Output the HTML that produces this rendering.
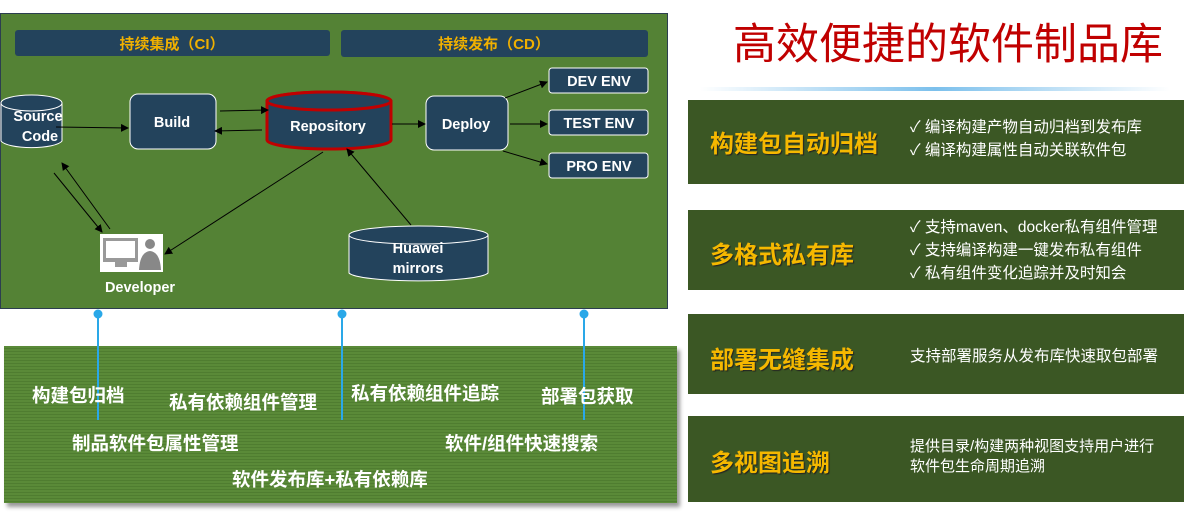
<!DOCTYPE html>
<html><head><meta charset="utf-8"><style>
body{margin:0;width:1189px;height:513px;background:#fff;overflow:hidden;position:relative;font-family:"Liberation Sans","Noto Sans CJK SC",sans-serif}
.a{position:absolute}
.rb{position:absolute;left:688px;width:496px;background:#3b5724;color:#fff}
.rb .h{position:absolute;left:22px;color:#f5b800;font-size:24px;font-weight:bold;text-shadow:1px 1px 1px #222;white-space:nowrap}
.rb .t{position:absolute;left:222px;font-size:15.5px;line-height:23px;white-space:nowrap}
.bt{position:absolute;color:#fff;font-size:18.5px;font-weight:bold;white-space:nowrap}
</style></head><body>
<div class="a" style="left:0;top:13px;width:668px;height:296px;background:#548235;border:1px solid #2c3e50;box-sizing:border-box"></div>
<div class="a" style="left:4px;top:346px;width:673px;height:157px;background:repeating-linear-gradient(#5a8a38 0 2px,#4f7d30 2px 3px);box-shadow:3px 4px 4px #999"></div>
<svg class="a" style="left:0;top:0" width="1189" height="513">
<defs><marker id="m" markerWidth="8" markerHeight="8" refX="7" refY="4" orient="auto" markerUnits="userSpaceOnUse"><path d="M0,0L8,4L0,8z" fill="#000"/></marker>
<linearGradient id="g" x1="0" x2="1"><stop offset="0" stop-color="#fff"/><stop offset=".5" stop-color="#7cc0ec"/><stop offset="1" stop-color="#fff"/></linearGradient></defs>
<rect x="15" y="30" width="315" height="26" rx="3" fill="#23435c"/>
<rect x="341" y="30" width="307" height="27" rx="3" fill="#23435c"/>
<text x="172" y="49" fill="#f0b000" font-size="15" font-weight="bold" text-anchor="middle">持续集成（CI）</text>
<text x="494" y="49" fill="#f0b000" font-size="15" font-weight="bold" text-anchor="middle">持续发布（CD）</text>
<g stroke="#fff" stroke-width="1" fill="#23435c">
<path d="M1,103 A31,8 0 0 1 62,103 V141 A31,8 0 0 1 1,141Z"/><ellipse cx="31.5" cy="103" rx="30.5" ry="8"/>
<rect x="130" y="94" width="86" height="55" rx="8"/>
<rect x="426" y="96" width="82" height="54" rx="8"/>
<rect x="549" y="68" width="99" height="25" rx="3"/>
<rect x="549" y="110" width="99" height="25" rx="3"/>
<rect x="549" y="153" width="99" height="25" rx="3"/>
<path d="M349,235 A70,9 0 0 1 488,235 V273 A70,9 0 0 1 349,273Z"/><ellipse cx="418.5" cy="235" rx="69.5" ry="9"/>
</g>
<g stroke="#c00000" stroke-width="3" fill="#23435c">
<path d="M267,101 A62,9 0 0 1 391,101 V140 A62,9 0 0 1 267,140Z"/><ellipse cx="329" cy="101" rx="62" ry="9"/>
</g>
<g fill="#fff" font-weight="bold" font-size="14.5" text-anchor="middle">
<text x="38" y="121">Source</text><text x="40" y="141">Code</text>
<text x="172" y="127">Build</text>
<text x="328" y="131">Repository</text>
<text x="466" y="129">Deploy</text>
<text x="599" y="86">DEV ENV</text><text x="599" y="128">TEST ENV</text><text x="599" y="171">PRO ENV</text>
<text x="418" y="253">Huawei</text><text x="418" y="273">mirrors</text>
<text x="140" y="292">Developer</text>
</g>
<rect x="100" y="234" width="63" height="38" fill="#fff"/>
<rect x="103" y="238" width="35" height="24" fill="#999"/><rect x="106" y="241" width="29" height="17" fill="#fff"/>
<rect x="115" y="262" width="12" height="5" fill="#999"/>
<circle cx="150" cy="244" r="5" fill="#888"/><path d="M139,270 Q140,252 150,251 Q160,252 161,270Z" fill="#888"/>
<g stroke="#000" stroke-width="1" marker-end="url(#m)">
<line x1="56" y1="127" x2="128" y2="128"/>
<line x1="220" y1="111" x2="268" y2="110"/>
<line x1="262" y1="130" x2="215" y2="131"/>
<line x1="392" y1="124" x2="425" y2="124"/>
<line x1="505" y1="98" x2="547" y2="82"/>
<line x1="510" y1="124" x2="547" y2="124"/>
<line x1="503" y1="151" x2="547" y2="164"/>
<line x1="54" y1="173" x2="102" y2="232"/>
<line x1="110" y1="229" x2="62" y2="163"/>
<line x1="323" y1="152" x2="165" y2="254"/>
<line x1="411" y1="225" x2="347" y2="149"/>
</g>
<g stroke="#2aa8e8" stroke-width="2" fill="#2aa8e8">
<line x1="98" y1="313" x2="98" y2="420"/><circle cx="98" cy="314" r="3.5"/>
<line x1="342" y1="313" x2="342" y2="420"/><circle cx="342" cy="314" r="3.5"/>
<line x1="584" y1="313" x2="584" y2="420"/><circle cx="584" cy="314" r="3.5"/>
</g>
<rect x="700" y="87" width="470" height="4" fill="url(#g)"/>
</svg>
<div class="bt" style="left:32px;top:382px">构建包归档</div>
<div class="bt" style="left:169px;top:389px">私有依赖组件管理</div>
<div class="bt" style="left:351px;top:380px">私有依赖组件追踪</div>
<div class="bt" style="left:541px;top:383px">部署包获取</div>
<div class="bt" style="left:72px;top:430px">制品软件包属性管理</div>
<div class="bt" style="left:445px;top:430px">软件/组件快速搜索</div>
<div class="bt" style="left:232px;top:466px">软件发布库+私有依赖库</div>
<div class="a" style="left:733px;top:10px;color:#c00000;font-size:43px;white-space:nowrap">高效便捷的软件制品库</div>
<div class="rb" style="top:100px;height:84px"><div class="h" style="top:24px">构建包自动归档</div><div class="t" style="top:16px">✓ 编译构建产物自动归档到发布库<br>✓ 编译构建属性自动关联软件包</div></div>
<div class="rb" style="top:210px;height:80px"><div class="h" style="top:25px">多格式私有库</div><div class="t" style="top:6px">✓ 支持maven、docker私有组件管理<br>✓ 支持编译构建一键发布私有组件<br>✓ 私有组件变化追踪并及时知会</div></div>
<div class="rb" style="top:314px;height:80px"><div class="h" style="top:26px">部署无缝集成</div><div class="t" style="top:31px">支持部署服务从发布库快速取包部署</div></div>
<div class="rb" style="top:416px;height:86px"><div class="h" style="top:27px">多视图追溯</div><div class="t" style="top:21px;line-height:20px;font-size:15px">提供目录/构建两种视图支持用户进行<br>软件包生命周期追溯</div></div>
</body></html>
